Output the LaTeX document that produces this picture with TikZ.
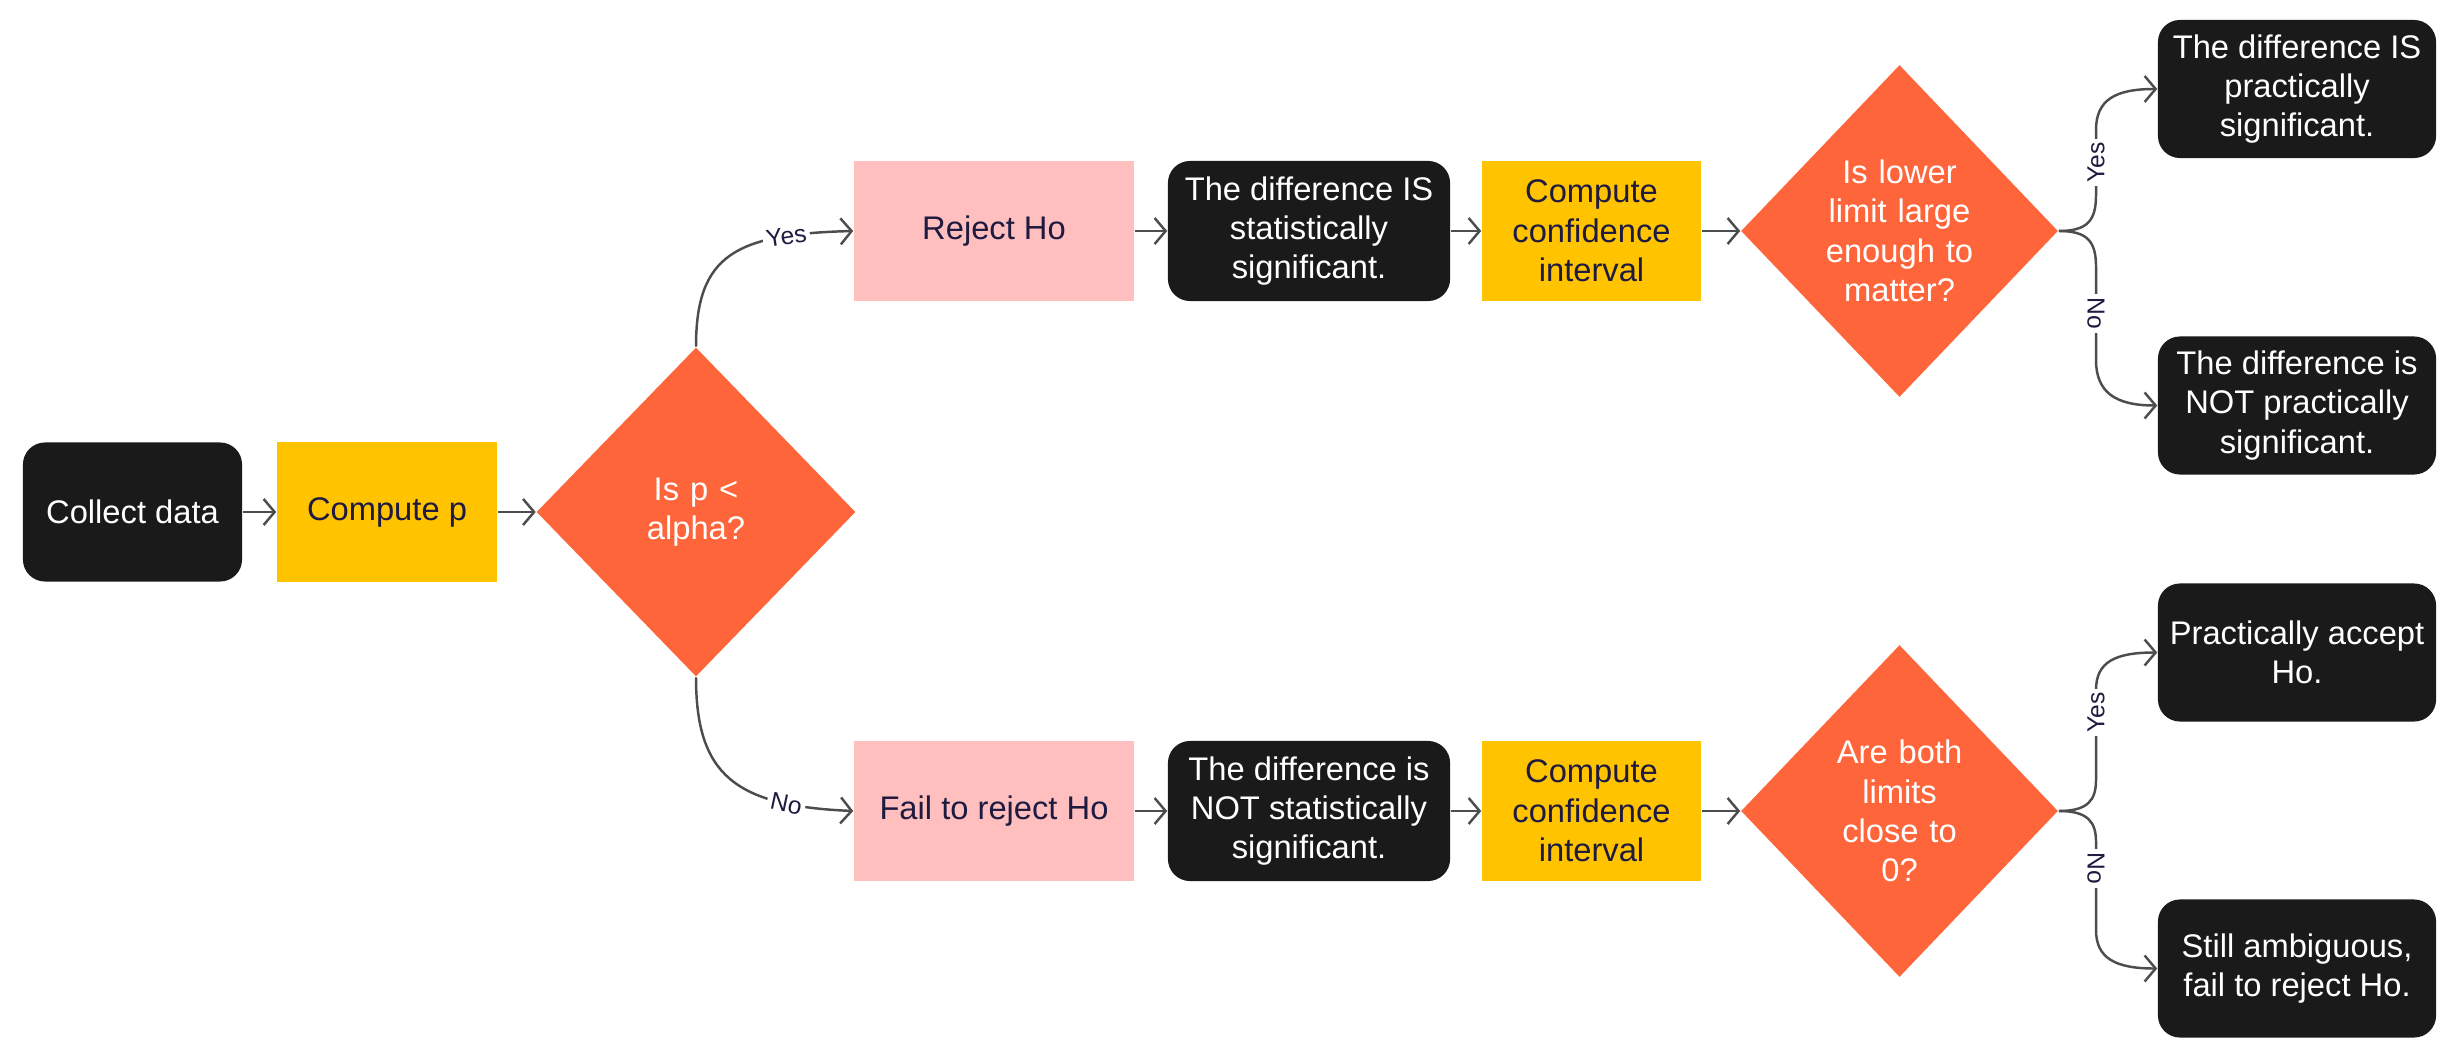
\documentclass[tikz,border=0pt]{standalone}
\usepackage{fontspec}
\setmainfont{Liberation Sans}
\usetikzlibrary{shapes.geometric,arrows.meta}
\definecolor{boxblack}{HTML}{1A1A1A}
\definecolor{boxyellow}{HTML}{FFC300}
\definecolor{boxpink}{HTML}{FFBFBF}
\definecolor{decorange}{HTML}{FF653B}
\definecolor{navy}{HTML}{1E1A40}
\definecolor{linegray}{HTML}{4D4D4D}
\begin{document}
\begin{tikzpicture}[x=0.01cm,y=-0.01cm,
  base/.style={inner sep=2pt, align=center, font=\fontsize{9.3}{11.2}\selectfont},
  termbox/.style={base, fill=boxblack, text=white, rounded corners=0.22cm},
  procbox/.style={base, fill=boxyellow, text=navy},
  pinkbox/.style={base, fill=boxpink, text=navy},
  decision/.style={base, diamond, fill=decorange, text=white, inner sep=0pt, text width=1.6cm},
  conn/.style={draw=linegray, line width=0.7pt, -{Straight Barb[length=1.1mm,width=2.6mm]}},
  lbl/.style={fill=white, inner sep=1pt, text=navy, font=\fontsize{7}{8}\selectfont},
]
\useasboundingbox (0,0) rectangle (2452,1058);
% left part
\node[termbox, minimum width=2.19cm, minimum height=1.39cm] (collect) at (132.5,512) {Collect data};
\node[procbox, minimum width=2.2cm, minimum height=1.39cm] (compp) at (387,512) {Compute p};
\node[decision, minimum width=3.19cm, minimum height=3.29cm] (d1) at (696,512) {Is p <\\alpha?};
% top row
\node[pinkbox, minimum width=2.8cm, minimum height=1.4cm] (rej) at (994,231) {Reject Ho};
\node[termbox, minimum width=2.82cm, minimum height=1.4cm] (sig) at (1309,231) {The difference IS\\statistically\\significant.};
\node[procbox, minimum width=2.19cm, minimum height=1.4cm] (ci1) at (1591.5,231) {Compute\\confidence\\interval};
\node[decision, minimum width=3.17cm, minimum height=3.32cm] (d2) at (1899.5,231) {Is lower\\limit large\\enough to\\matter?};
\node[termbox, minimum width=2.78cm, minimum height=1.38cm] (psig) at (2297,89) {The difference IS\\practically\\significant.};
\node[termbox, minimum width=2.78cm, minimum height=1.38cm] (pnsig) at (2297,405.5) {The difference is\\NOT practically\\significant.};
% bottom row
\node[pinkbox, minimum width=2.8cm, minimum height=1.4cm] (fail) at (994,811) {Fail to reject Ho};
\node[termbox, minimum width=2.82cm, minimum height=1.4cm] (nsig) at (1309,811) {The difference is\\NOT statistically\\significant.};
\node[procbox, minimum width=2.19cm, minimum height=1.4cm] (ci2) at (1591.5,811) {Compute\\confidence\\interval};
\node[decision, minimum width=3.17cm, minimum height=3.32cm] (d3) at (1899.5,811) {Are both\\limits\\close to\\0?};
\node[termbox, minimum width=2.78cm, minimum height=1.38cm] (pacc) at (2297,652.5) {Practically accept\\Ho.};
\node[termbox, minimum width=2.78cm, minimum height=1.38cm] (amb) at (2297,968.5) {Still ambiguous,\\fail to reject Ho.};
% connectors
\draw[conn] (collect) -- (compp);
\draw[conn] (compp) -- (d1);
\draw[conn] (d1.north) .. controls (696,255) and (735,234) .. node[lbl,pos=0.78,sloped]{Yes} (rej.west);
\draw[conn] (d1.south) .. controls (696,775) and (735,806) .. node[lbl,pos=0.78,sloped]{No} (fail.west);
\draw[conn] (rej) -- (sig);
\draw[conn] (sig) -- (ci1);
\draw[conn] (ci1) -- (d2);
\draw[conn] (fail) -- (nsig);
\draw[conn] (nsig) -- (ci2);
\draw[conn] (ci2) -- (d3);
\draw[conn] (d2.east) .. controls (2088,231) and (2096,220) .. (2096,195) -- node[lbl,rotate=90]{Yes} (2096,130) .. controls (2096,100) and (2115,89) .. (psig.west);
\draw[conn] (d2.east) .. controls (2088,231) and (2096,242) .. (2096,267) -- node[lbl,rotate=-90]{No} (2096,360) .. controls (2096,392) and (2115,405.5) .. (pnsig.west);
\draw[conn] (d3.east) .. controls (2088,811) and (2096,800) .. (2096,780) -- node[lbl,rotate=90,pos=0.75]{Yes} (2096,690) .. controls (2096,662) and (2115,652.5) .. (pacc.west);
\draw[conn] (d3.east) .. controls (2088,811) and (2096,822) .. (2096,842) -- node[lbl,rotate=-90,pos=0.3]{No} (2096,930) .. controls (2096,958) and (2115,968.5) .. (amb.west);
\end{tikzpicture}
\end{document}
